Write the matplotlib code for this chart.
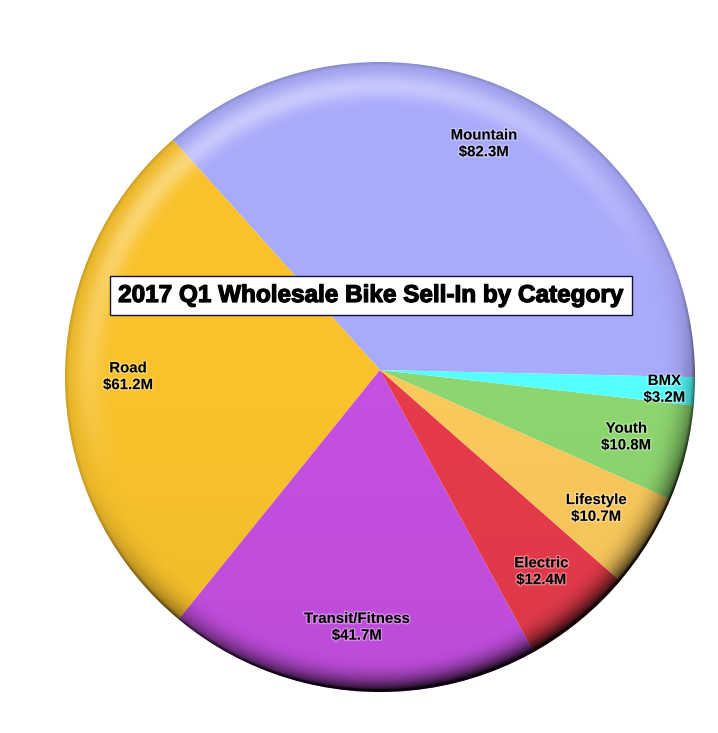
import numpy as np
import matplotlib
matplotlib.use("Agg")
import matplotlib.pyplot as plt
import matplotlib.patheffects as pe
from matplotlib.patches import Circle

categories = ["Mountain", "Road", "Transit/Fitness", "Electric", "Lifestyle", "Youth", "BMX"]
sales = [82.3, 61.2, 41.7, 12.4, 10.7, 10.8, 3.2]
colors = ["#a8aafb", "#f9c22c", "#c54fe2", "#e63b4b", "#f9c95c", "#8dd56f", "#56fffe"]
title = "2017 Q1 Wholesale Bike Sell-In by Category"

# label distance from the pie apex, per slice
label_r = [0.79, 0.80, 0.82, 0.82, 0.815, 0.81, 0.905]

W, H = 718, 733
fig = plt.figure(figsize=(W / 100, H / 100), dpi=100)
ax = fig.add_axes([0, 0, 1, 1])

# pixel geometry: apex at (380, 370), outline circle centred (380, 377), r = 315
R = 315.0
cy_off = -7 / R

wedges, _ = ax.pie(sales, colors=colors, startangle=-1.3, counterclock=True,
                   radius=1.1, center=(0, 0), wedgeprops=dict(linewidth=0))

clip = Circle((0, cy_off), 1.0, transform=ax.transData, facecolor="none", edgecolor="none")
ax.add_patch(clip)
for w in wedges:
    w.set_clip_on(True)
    w.set_clip_path(clip)

# spherical shading overlay
n = 600
u = np.linspace(-1, 1, n)
U, V = np.meshgrid(u, u[::-1])
r = np.sqrt(U ** 2 + V ** 2)
s = (0.35 * U - 0.94 * V)  # towards bottom-right
sp = np.clip(s, 0, 1)
edge = np.clip((r - 0.88) / 0.12, 0, 1)
dark = edge ** 2.5 * (0.08 + 0.88 * sp ** 1.3)
dark += np.clip((r - 0.99) / 0.01, 0, 1) * (0.1 + 0.3 * sp)
dark += np.clip(-V, 0, 1) * 0.04
dark = np.clip(dark, 0, 0.95)
shade = np.zeros((n, n, 4))
shade[..., 3] = dark

light = np.exp(-((r - 0.925) / 0.04) ** 2) * np.clip(-s, 0, 1) ** 0.8 * 0.4
hl = np.ones((n, n, 4))
hl[..., 3] = np.clip(light, 0, 1)

ext = [-1, 1, -1 + cy_off, 1 + cy_off]
for img in (shade, hl):
    im = ax.imshow(img, extent=ext, zorder=3, interpolation="bilinear")
    im.set_clip_path(clip)

# slice labels
for w, name, val, rr in zip(wedges, categories, sales, label_r):
    ang = np.deg2rad((w.theta1 + w.theta2) / 2)
    ax.text(rr * np.cos(ang), rr * np.sin(ang), f"{name}\n${val}M",
            ha="center", va="center", fontsize=10.8, fontweight="bold",
            family="Liberation Sans", linespacing=1.25, zorder=5,
            path_effects=[pe.withStroke(linewidth=2, foreground="white", alpha=0.35)])

ax.text((371 - 380) / R, (370 - 295.5) / R, title, ha="center", va="center",
        fontsize=17.5, fontweight="bold", family="Liberation Sans", zorder=6,
        path_effects=[pe.withStroke(linewidth=0.9, foreground="black")],
        bbox=dict(boxstyle="square,pad=0.33", facecolor="white", edgecolor="#101040", linewidth=1))

ax.set_xlim(-380 / R, (W - 380) / R)
ax.set_ylim(-(H - 370) / R, 370 / R)
ax.set_aspect("equal")
ax.axis("off")

fig.savefig("out.png", dpi=100)
